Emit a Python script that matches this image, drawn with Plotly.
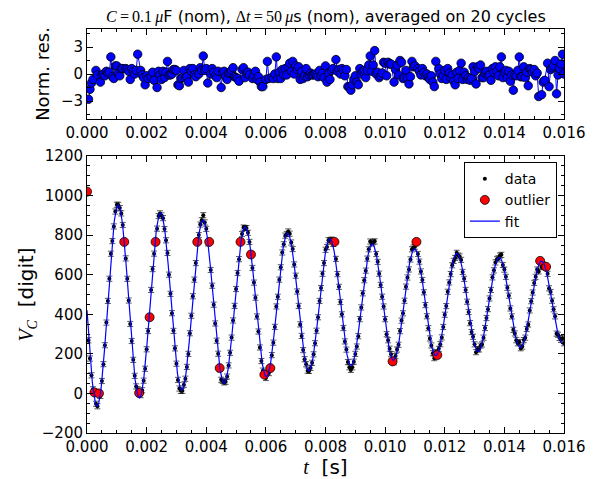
import numpy as np
import plotly.graph_objects as go

# ---- sampling ----
DT = 50e-6          # sampling step [s]
N_SAMPLES = 321     # 0 ... 0.016 s

# ---- fit parameters ----
V_OFF = 455.0       # offset [digit]
AMP = 530.0         # amplitude at t=0 [digit]
TAU = 0.0168        # damping time [s]
PERIOD = 0.00142    # period [s]
T_PEAK = 0.00105    # time of first maximum [s]
SIGMA = 13.0        # error bar [digit]

# ---- normalised residuals (None = outlier sample) ----
resid = [
    None, -2.8, -1.7, -1.0, -0.6, None, 0.4, -0.1, None, -0.9, -0.1, 0.0, -0.2, 0.3, 0.1, 0.2, 1.9, -0.3, -0.5, 0.9,
    0.9, 0.0, -0.2, 0.6, 0.6, None, 0.6, 0.5, 0.3, -0.6, 0.6, 0.3, 0.0, 0.4, 2.2, None, 0.4, -0.1, -0.4, -1.2,
    -0.2, -0.5, None, -0.3, 0.2, -0.7, None, -1.5, 0.3, -0.1, -0.6, 0.3, -0.4, 0.2, 1.4, -0.1, -0.1, 0.0, 0.5, 0.5,
    0.4, -1.2, -1.3, -0.5, -0.4, 0.4, -0.4, -0.3, -0.9, 0.6, 0.3, 0.6, -0.1, -0.3, None, 0.0, 0.7, 0.4, 2.0, 0.4,
    0.6, -1.0, None, 0.0, 0.6, 0.2, -0.2, -0.4, 0.3, None, -1.5, 0.2, 0.3, -0.3, -0.6, 0.1, 0.2, 0.4, 0.7, -0.3,
    -0.4, -0.5, -0.8, None, 0.5, 0.7, -0.4, 0.1, 0.2, -0.1, None, -0.5, -0.2, 0.3, -0.6, -0.3, -0.9, -1.4, -1.4, None,
    -0.6, 1.4, -0.5, None, -0.4, -0.5, 0.0, 1.9, -0.5, 0.2, -0.5, 0.5, -0.1, 0.6, -0.1, 0.8, 1.2, 0.3, 1.4, 0.0,
    0.9, 0.5, 0.8, -0.6, 0.3, -0.5, -0.2, 0.6, -0.3, -0.1, 0.1, -0.1, -0.1, 0.0, -0.1, -0.3, 0.4, -0.2, 0.1, -0.4,
    0.9, -0.9, 0.0, -0.6, 0.4, 0.6, None, 1.6, 0.3, 0.5, 0.0, 0.6, 0.4, -0.2, 0.5, -1.4, -1.5, -1.8, -1.2, -0.6,
    -0.2, -0.9, -1.2, 0.6, 0.0, 0.3, 0.4, -0.4, 0.4, 1.0, 2.0, 0.3, 1.0, 2.6, 0.0, 0.2, -0.4, -0.2, 0.1, 1.3,
    1.2, -0.2, 1.3, 1.1, 1.1, None, -0.9, 0.5, 1.0, -0.1, 1.5, 1.3, -0.5, -0.4, 0.4, -0.4, -1.1, -0.3, 1.4, 0.8,
    0.9, None, 0.6, 0.3, -0.1, 0.6, 0.2, -0.2, 0.0, -0.4, -0.6, -0.2, -0.9, -1.4, 1.4, None, 0.6, 0.0, -0.5, -0.2,
    0.4, -0.6, 0.6, 0.1, -0.4, -0.1, -0.8, -1.2, 0.2, -0.5, 0.4, 1.2, -0.6, 0.2, -0.2, -0.6, -0.4, -0.7, -0.5, 0.8,
    0.3, -1.1, 0.8, 0.6, 1.0, -0.4, -0.4, 0.1, 0.3, -0.2, -0.1, -0.7, 0.6, 0.2, 0.8, 0.3, -0.2, 0.8, 1.9, -0.4,
    0.2, 0.4, -0.4, 0.3, -0.8, -0.1, -1.8, -0.1, -0.2, 0.4, 1.9, -0.3, -0.3, 0.8, -0.4, 0.2, -1.3, 0.6, 0.5, 0.2,
    0.5, -0.2, 0.1, -2.5, None, -2.3, -0.9, -0.7, None, 1.2, -1.4, 0.5, 0.7, 0.9, 1.5, -2.2, -0.1, 0.6, 1.1, 2.2,
    0.0,
]

# ---- outliers ----
outlier_t = [0.0, 0.00025, 0.0004, 0.00125, 0.00175, 0.0021, 0.0023, 0.0037, 0.0041, 0.00445,
             0.00515, 0.0055, 0.00595, 0.00615, 0.0083, 0.01025, 0.01105, 0.01175, 0.0152, 0.0154]
outlier_v = [1020, 5, 0, 766, 2, 385, 766, 766, 766, 128,
             766, 702, 95, 128, 766, 162, 766, 194, 670, 640]

# ---- tick labels ----
x_ticks = [0.000, 0.002, 0.004, 0.006, 0.008, 0.010, 0.012, 0.014, 0.016]
res_ticks = [-3, 0, 3]
v_ticks = [-200, 0, 200, 400, 600, 800, 1000, 1200]


def fit_fn(t):
    return V_OFF + AMP * np.exp(-t / TAU) * np.cos(2 * np.pi * (t - T_PEAK) / PERIOD)


t_all = np.arange(N_SAMPLES) * DT
mask = np.array([r is not None for r in resid])
r_arr = np.array([r if r is not None else np.nan for r in resid], dtype=float)
t_data = t_all[mask]
r_data = r_arr[mask]
v_data = fit_fn(t_data) + r_data * SIGMA

t_fit = np.linspace(0, 0.016, 1200)
v_fit = fit_fn(t_fit)

SERIF = "Liberation Serif"
FONT = "DejaVu Sans"

fig = go.Figure()
fig.add_trace(go.Scatter(
    x=t_data, y=r_data, xaxis="x", yaxis="y", mode="lines+markers",
    line=dict(color="#0000ff", width=1),
    marker=dict(size=8.5, color="#0000ff", line=dict(color="black", width=0.8)),
    showlegend=False, hoverinfo="skip"))
fig.add_trace(go.Scatter(
    x=t_data, y=v_data, xaxis="x2", yaxis="y2", mode="markers", name="data",
    marker=dict(size=4, color="black"),
    error_y=dict(type="constant", value=SIGMA, color="rgba(0,0,0,0.65)", thickness=1, width=3)))
fig.add_trace(go.Scatter(
    x=outlier_t, y=outlier_v, xaxis="x2", yaxis="y2", mode="markers", name="outlier",
    marker=dict(size=9, color="#ff0000", line=dict(color="black", width=0.8))))
fig.add_trace(go.Scatter(
    x=t_fit, y=v_fit, xaxis="x2", yaxis="y2", mode="lines", name="fit",
    line=dict(color="#0000ff", width=1.2)))

axis_common = dict(
    showline=True, linecolor="black", linewidth=1, mirror="allticks",
    ticks="inside", ticklen=6, tickwidth=1, tickcolor="black",
    showgrid=False, zeroline=False, automargin=False,
    tickfont=dict(family=FONT, size=15, color="black"),
)

# the page body adds an 8 px offset; size/margins compensate for it
fig.update_layout(
    width=587, height=471,
    margin=dict(l=79, r=31, t=21, b=46),
    paper_bgcolor="white", plot_bgcolor="white",
    font=dict(family=FONT, color="black"),
    xaxis=dict(axis_common, domain=[0, 1], anchor="y", range=[0, 0.016],
               tickvals=x_ticks, tickformat=".3f",
               minor=dict(ticks="inside", ticklen=3, tickcolor="black", dtick=0.0005, tick0=0)),
    yaxis=dict(axis_common, domain=[0.7772, 1], anchor="x", range=[-5, 5],
               tickvals=res_ticks,
               minor=dict(ticks="inside", ticklen=3, tickcolor="black", dtick=1.5, tick0=0),
               title=dict(text="Norm. res.", font=dict(family=FONT, size=18), standoff=6)),
    xaxis2=dict(axis_common, domain=[0, 1], anchor="y2", range=[0, 0.016],
                tickvals=x_ticks, tickformat=".3f",
                minor=dict(ticks="inside", ticklen=3, tickcolor="black", dtick=0.0005, tick0=0),
                title=dict(text=f"<span style='font-family:{SERIF}'><i>t</i></span>\u00a0\u00a0[s]",
                           font=dict(family=FONT, size=20), standoff=3)),
    yaxis2=dict(axis_common, domain=[0, 0.6856], anchor="x2", range=[-200, 1200],
                tickvals=v_ticks,
                minor=dict(ticks="inside", ticklen=3, tickcolor="black", dtick=50, tick0=0),
                title=dict(text=f"<span style='font-family:{SERIF}'><i>V</i><sub><i>C</i></sub></span>\u00a0\u00a0[digit]",
                           font=dict(family=FONT, size=20), standoff=2)),
    legend=dict(x=0.985, y=0.6856 - 0.015, xref="paper", yref="paper", xanchor="right", yanchor="top",
                bgcolor="white", bordercolor="black", borderwidth=1,
                font=dict(family=FONT, size=14), itemwidth=30, tracegroupgap=2),
    showlegend=True,
)

fig.add_annotation(
    text=(f"<span style='font-family:{SERIF}'><i>C</i>\u2009=\u20090.1\u2009<i>\u03bc</i></span>F (nom), "
          f"<span style='font-family:{SERIF}'>\u0394<i>t</i>\u2009=\u200950\u2009<i>\u03bc</i></span>s (nom), "
          "averaged on 20 cycles"),
    xref="paper", yref="paper", x=0.5, y=1, yanchor="bottom", xanchor="center",
    yshift=1, showarrow=False, font=dict(family=FONT, size=16, color="black"))

fig.write_html("out.html")
